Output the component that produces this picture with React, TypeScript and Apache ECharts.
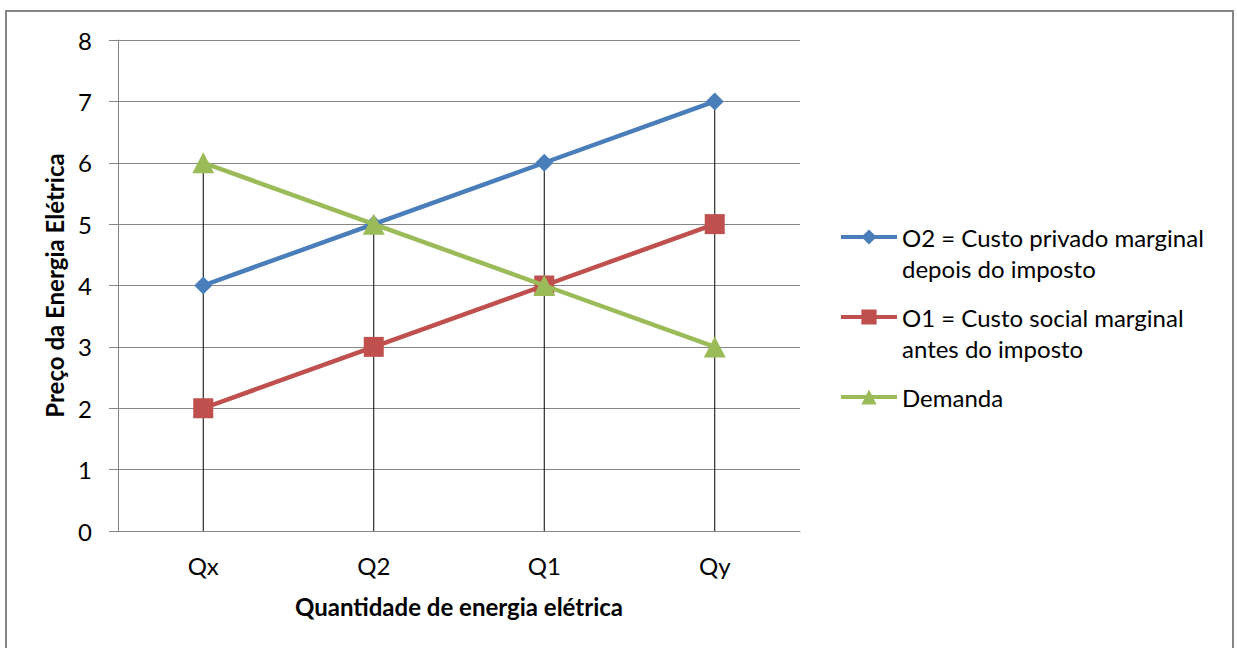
import React, { useEffect, useRef } from "react";
import * as echarts from "echarts";

const categories = ["Qx", "Q2", "Q1", "Qy"];
const o2Values = [4, 5, 6, 7];
const o1Values = [2, 3, 4, 5];
const demandaValues = [6, 5, 4, 3];
const yTicks = { min: 0, max: 8, interval: 1 };

const nameO2 = "O2 = Custo privado marginal\ndepois do imposto";
const nameO1 = "O1 = Custo social marginal\nantes do imposto";
const nameDem = "Demanda";

const FONT = "Lato";
const FS = 24;
const LH = 31;

export default function App() {
  const ref = useRef<HTMLDivElement>(null);
  useEffect(() => {
    const chart = echarts.init(ref.current!, null, { renderer: "svg" });
    const dropData = categories.map((_, i) => [
      i,
      Math.max(o2Values[i], o1Values[i], demandaValues[i]),
    ]);
    const legendBase = {
      left: 839,
      padding: 0,
      itemWidth: 56,
      itemHeight: 19,
      itemGap: 5,
      orient: "vertical",
      selectedMode: false,
      lineStyle: { width: 4 },
      textStyle: { fontFamily: FONT, fontSize: FS, color: "#000", lineHeight: LH },
      formatter: (n: string) => (n.indexOf("\n") >= 0 ? "\n" + n : n),
    };
    chart.setOption({
      animation: false,
      backgroundColor: "#fff",
      textStyle: { fontFamily: FONT },
      graphic: [
        {
          type: "rect",
          shape: { x: 6, y: 11, width: 1227, height: 700 },
          style: { fill: "none", stroke: "#868686", lineWidth: 2 },
          silent: true,
        },
      ],
      grid: { left: 118, right: 437, top: 40, bottom: 117 },
      legend: [
        { ...legendBase, top: 237 - 46.5, data: [nameO2] },
        { ...legendBase, top: 317 - 46.5, data: [nameO1] },
        { ...legendBase, top: 397 - 15.5, data: [nameDem] },
      ],
      xAxis: {
        type: "category",
        data: categories,
        boundaryGap: true,
        axisLine: { show: true, lineStyle: { color: "#868686", width: 1 } },
        axisTick: { show: false },
        axisLabel: { fontFamily: FONT, fontSize: FS, color: "#000", margin: 22 },
        name: "Quantidade de energia elétrica",
        nameLocation: "middle",
        nameGap: 63,
        nameTextStyle: { fontFamily: FONT, fontSize: FS, fontWeight: "bold", color: "#000" },
        splitLine: { show: false },
      },
      yAxis: {
        type: "value",
        min: yTicks.min,
        max: yTicks.max,
        interval: yTicks.interval,
        axisLine: { show: true, lineStyle: { color: "#868686", width: 1 } },
        axisTick: { show: true, length: 9, lineStyle: { color: "#868686" } },
        axisLabel: { fontFamily: FONT, fontSize: FS, color: "#000", margin: 26 },
        splitLine: { show: true, lineStyle: { color: "#868686", width: 1 } },
        name: "Preço da Energia Elétrica",
        nameLocation: "middle",
        nameGap: 52,
        nameRotate: 90,
        nameTextStyle: { fontFamily: FONT, fontSize: FS, fontWeight: "bold", color: "#000" },
      },
      series: [
        {
          type: "custom",
          name: "drop",
          data: dropData,
          z: 1,
          silent: true,
          renderItem: (_params: any, api: any) => {
            const top = api.coord([api.value(0), api.value(1)]);
            const bottom = api.coord([api.value(0), 0]);
            return {
              type: "line",
              shape: { x1: top[0], y1: top[1], x2: bottom[0], y2: bottom[1] },
              style: { stroke: "#000", lineWidth: 1 },
            };
          },
        },
        {
          type: "line",
          name: nameO2,
          data: o2Values,
          z: 3,
          color: "#4A7EBB",
          lineStyle: { width: 4.5, color: "#4A7EBB" },
          symbol: "diamond",
          symbolSize: 18,
          itemStyle: { color: "#4A7EBB" },
        },
        {
          type: "line",
          name: nameO1,
          data: o1Values,
          z: 4,
          color: "#C0504D",
          lineStyle: { width: 4.5, color: "#C0504D" },
          symbol: "rect",
          symbolSize: 20,
          itemStyle: { color: "#C0504D" },
        },
        {
          type: "line",
          name: nameDem,
          data: demandaValues,
          z: 5,
          color: "#9BBB59",
          lineStyle: { width: 4.5, color: "#9BBB59" },
          symbol: "triangle",
          symbolSize: [22, 21],
          itemStyle: { color: "#9BBB59" },
        },
      ],
    });
    return () => chart.dispose();
  }, []);
  return (
    <div
      ref={ref}
      style={{ position: "absolute", left: 0, top: 0, width: 1237, height: 648, background: "#fff" }}
    />
  );
}
